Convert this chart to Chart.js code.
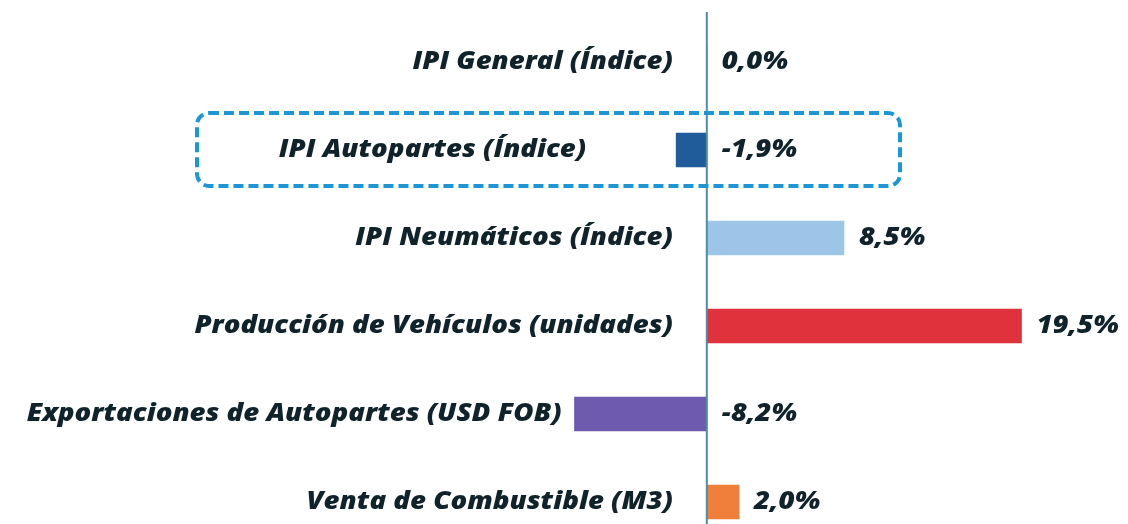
<!DOCTYPE html>
<html lang="es">
<head>
    <meta charset="UTF-8">
    <title>Indicadores sector autopartista</title>
    <script src="https://cdn.jsdelivr.net/npm/chart.js"></script>
    <style>
        html, body { margin: 0; padding: 0; overflow: hidden; background: #fff; }
        #wrap { position: relative; width: 1128px; height: 546px; }
    </style>
</head>
<body>
    <div id="wrap"><canvas id="varChart"></canvas></div>

    <script>
        // data
        const categories = [
            'IPI General (Índice)',
            'IPI Autopartes (Índice)',
            'IPI Neumáticos (Índice)',
            'Producción de Vehículos (unidades)',
            'Exportaciones de Autopartes (USD FOB)',
            'Venta de Combustible (M3)'
        ];
        const variations = [0.0, -1.9, 8.5, 19.5, -8.2, 2.0];
        const barColors = ['#1f5c99', '#1f5c99', '#9cc5e8', '#e0323d', '#6e5aae', '#f07f3c'];
        const highlighted = 1; // row framed by the dashed box

        const fmt = v => v.toFixed(1).replace('.', ',') + '%';
        const labelFont = 'italic 800 24px "Open Sans"';
        const textColor = '#10222a';

        // text in the original is stretched sideways
        function wideText(ctx, text, px, py, align) {
            ctx.save();
            ctx.translate(px, py);
            ctx.scale(1.15, 1);
            ctx.textAlign = align;
            ctx.fillText(text, 0, 0);
            ctx.restore();
        }

        const labelsPlugin = {
            id: 'barLabels',
            afterDatasetsDraw(chart) {
                const { ctx, scales: { x, y } } = chart;
                const zero = x.getPixelForValue(0);
                ctx.save();

                // zero line
                ctx.strokeStyle = '#4f8ca6';
                ctx.lineWidth = 2;
                ctx.beginPath();
                ctx.moveTo(zero, 12);
                ctx.lineTo(zero, chart.height);
                ctx.stroke();

                ctx.font = labelFont;
                ctx.fillStyle = textColor;
                ctx.textBaseline = 'middle';
                variations.forEach((v, i) => {
                    const yc = y.getPixelForValue(i);
                    const left = Math.min(zero, x.getPixelForValue(v));
                    const right = Math.max(zero, x.getPixelForValue(v));
                    const shift = i === highlighted ? 90 : (v < 0 ? 13 : 34);
                    wideText(ctx, categories[i], left - shift, yc, 'right');
                    wideText(ctx, fmt(v), right + 15, yc, 'left');
                });

                // dashed frame around the highlighted row
                const yh = y.getPixelForValue(highlighted);
                ctx.strokeStyle = '#1c96d4';
                ctx.lineWidth = 4;
                ctx.setLineDash([10, 5]);
                ctx.beginPath();
                ctx.roundRect(197, yh - 37, 703, 73, 12);
                ctx.stroke();
                ctx.restore();
            }
        };

        new Chart(document.getElementById('varChart'), {
            type: 'bar',
            data: {
                labels: categories,
                datasets: [{
                    data: variations,
                    backgroundColor: barColors,
                    barThickness: 34
                }]
            },
            options: {
                indexAxis: 'y',
                responsive: true,
                maintainAspectRatio: false,
                animation: false,
                layout: { padding: { top: 18, bottom: 0, left: 0, right: 0 } },
                plugins: { legend: { display: false }, tooltip: { enabled: false } },
                scales: {
                    x: { display: false, min: -43.8, max: 26.1 },
                    y: { display: false }
                }
            },
            plugins: [labelsPlugin]
        });
    </script>
</body>
</html>
